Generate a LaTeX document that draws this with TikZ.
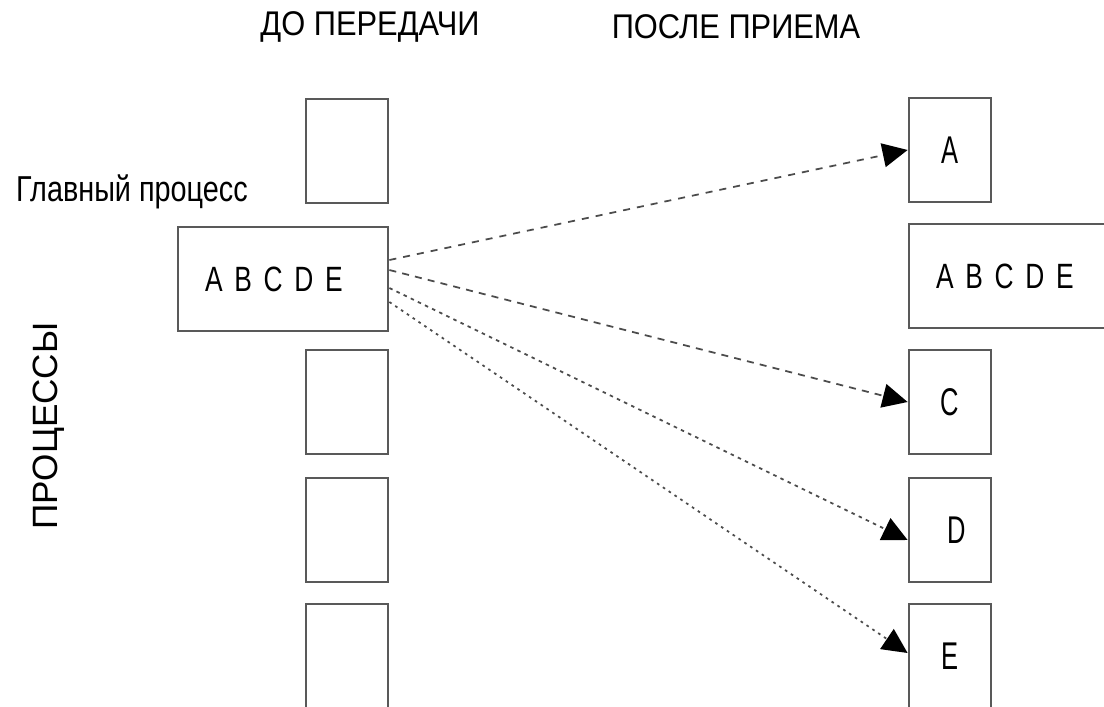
\documentclass[tikz,border=0pt]{standalone}
\usepackage{fontspec}
\setmainfont{Liberation Sans}
\newfontfamily\headfont[FakeStretch=0.9]{Liberation Sans}
\newfontfamily\procfont[FakeStretch=0.8]{Liberation Sans}
\newfontfamily\cellfont[FakeStretch=0.75]{Liberation Sans}
\newfontfamily\letterfont[FakeStretch=0.66]{Liberation Sans}
\usetikzlibrary{
    arrows.meta
}
\tikzset{
    cell/.style={draw=black!65, line width=1.6pt, minimum width=1.64cm,
        minimum height=2.08cm, inner sep=0pt,
        font=\letterfont\fontsize{22pt}{22pt}\selectfont},
    wide/.style={cell, minimum width=4.2cm, text width=3.12cm,
        inner xsep=0.54cm, align=left,
        font=\cellfont\fontsize{20pt}{20pt}\selectfont},
    head/.style={inner sep=0pt, font=\headfont\fontsize{19.5pt}{19.5pt}\selectfont},
    msg/.style={draw=black!70, line width=1pt,
        -{Triangle[length=0.5cm,width=0.48cm,color=black]}}
}

\begin{document}
\begin{tikzpicture}[x=0.02cm,y=-0.02cm]
    \clip (0,0) rectangle (1104,706);

    % titles
    \node[head] (tbefore) at (370,27) {ДО ПЕРЕДАЧИ};
    \node[head] (tafter)  at (736,27) {ПОСЛЕ ПРИЕМА};
    \node[inner sep=0pt, font=\procfont\fontsize{20.5pt}{20.5pt}\selectfont]
        (tmain) at (132,192) {Главный процесс};
    \node[inner sep=0pt, rotate=90, font=\fontsize{20pt}{20pt}\selectfont]
        (tproc) at (49,426) {ПРОЦЕССЫ};

    % before
    \node[cell] (lb1) at (347,151) {};
    \node[wide] (lmain) at (283,279) {A B C D E};
    \node[cell] (lb3) at (347,402) {};
    \node[cell] (lb4) at (347,530) {};
    \node[cell] (lb5) at (347,656) {};

    % after
    \node[cell] (ra) at (950,150) {A};
    \node[wide] (rmain) at (1014,276) {A B C D E};
    \node[cell] (rc) at (950,402) {C};
    \node[cell] (rd) at (950,530) {\hspace{0.25cm}D};
    \node[cell] (re) at (950,656) {E};

    \draw[msg, dash pattern=on 4pt off 4pt] ([yshift=0.38cm]lmain.east) to (ra.west);
    \draw[msg, dash pattern=on 4pt off 3.5pt] ([yshift=0.18cm]lmain.east) to (rc.west);
    \draw[msg, dash pattern=on 2pt off 2.5pt] ([yshift=-0.18cm]lmain.east) to ([yshift=-0.2cm]rd.west);
    \draw[msg, dash pattern=on 1.5pt off 2.5pt] ([yshift=-0.46cm]lmain.east) to ([yshift=0.06cm]re.west);
\end{tikzpicture}
\end{document}
